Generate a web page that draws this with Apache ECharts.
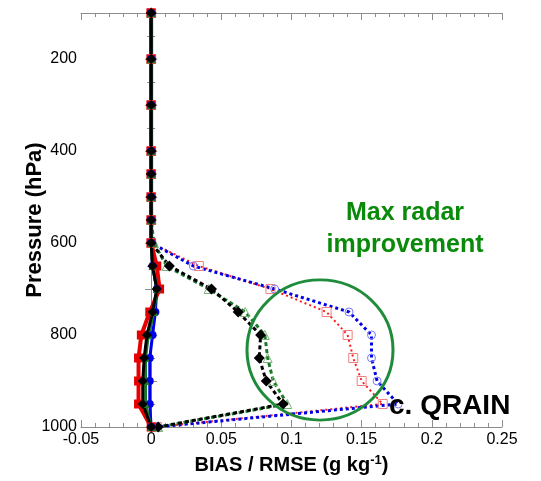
<!DOCTYPE html>
<html>
<head>
<meta charset="utf-8">
<script src="https://cdn.jsdelivr.net/npm/echarts@6/dist/echarts.min.js"></script>
<style>
  html, body { margin: 0; padding: 0; background: #fff; }
  #main { width: 541px; height: 481px; }
</style>
</head>
<body>
<div id="main"></div>
<script>
// pressure levels (hPa)
var levels = [100, 200, 300, 400, 450, 500, 550, 600, 650, 700, 750, 800, 850, 900, 950, 1000];
// BIAS profiles (solid)
var biasRed   = [0, 0, 0, 0, 0, 0, 0, 0, 0.004, 0.006, -0.001, -0.007, -0.009, -0.009, -0.009, 0.0];
var biasBlue  = [0, 0, 0, 0, 0, 0, 0, 0, 0.001, 0.004, 0.003, 0.001, -0.001, -0.001, -0.001, 0.0];
var biasGreen = [0, 0, 0, 0, 0, 0, 0, 0, 0.001, 0.004, 0.002, -0.002, -0.004, -0.004, -0.004, 0.0];
var biasBlack = [0, 0, 0, 0, 0, 0, 0, 0, 0.001, 0.004, 0.001, -0.003, -0.005, -0.006, -0.006, 0.0];
// RMSE profiles (dashed)
var rmseRed   = [0, 0, 0, 0, 0, 0, 0, 0, 0.034, 0.085, 0.125, 0.140, 0.144, 0.150, 0.165, 0.004];
var rmseBlue  = [0, 0, 0, 0, 0, 0, 0, 0, 0.030, 0.088, 0.141, 0.157, 0.157, 0.161, 0.176, 0.004];
var rmseGreen = [0, 0, 0, 0, 0, 0, 0, 0.002, 0.011, 0.041, 0.067, 0.081, 0.083, 0.087, 0.097, 0.005];
var rmseBlack = [0, 0, 0, 0, 0, 0, 0, 0, 0.013, 0.043, 0.062, 0.078, 0.077, 0.082, 0.094, 0.005];

function pairs(vals) {
    return vals.map(function (v, i) { return [v, levels[i]]; });
}

function line(name, vals, color, width, dash, symbol, size, fill, symColor) {
    return {
        name: name,
        type: 'line',
        data: pairs(vals),
        symbol: symbol,
        symbolSize: size,
        showSymbol: true,
        animation: false,
        lineStyle: { color: color, width: width, type: dash },
        itemStyle: fill ? { color: symColor || color, borderWidth: 0 }
                        : { color: 'rgba(255,255,255,0)', borderColor: symColor || color, borderWidth: 1 }
    };
}

var tri = 'path://M0,-10L9,6L-9,6Z';
var myChart = echarts.init(document.getElementById('main'));
var axisGrey = '#8c8c8c';
var option = {
    backgroundColor: '#fff',
    textStyle: { fontFamily: 'Liberation Sans, Arial, sans-serif' },
    grid: { left: 81, right: 39, top: 13, bottom: 54 },
    xAxis: [{
        type: 'value', min: -0.05, max: 0.25, interval: 0.05,
        name: 'BIAS / RMSE (g kg{sup|-1}{b|)}',
        nameLocation: 'middle', nameGap: 27,
        nameTextStyle: {
            fontSize: 20, fontWeight: 'bold', color: '#000',
            rich: { sup: { fontSize: 13, fontWeight: 'bold', verticalAlign: 'top', padding: [0, 0, 10, 0] },
                    b: { fontSize: 20, fontWeight: 'bold' } }
        },
        axisLine: { lineStyle: { color: axisGrey } },
        axisTick: { inside: true, length: 7, lineStyle: { color: axisGrey } },
        minorTick: { show: true, splitNumber: 5, length: 4, lineStyle: { color: axisGrey } },
        axisLabel: { fontSize: 16, color: '#000', margin: 5,
            formatter: function (v) { return String(+v.toFixed(2)); } },
        splitLine: { show: false }
    }, {
        type: 'value', min: -0.05, max: 0.25, interval: 0.05, position: 'top',
        axisLine: { lineStyle: { color: axisGrey } },
        axisTick: { inside: true, length: 7, lineStyle: { color: axisGrey } },
        minorTick: { show: true, splitNumber: 5, length: 4, lineStyle: { color: axisGrey } },
        axisLabel: { show: false }, splitLine: { show: false }
    }],
    yAxis: [{
        type: 'value', inverse: true, min: 100, max: 1000, interval: 100,
        name: 'Pressure (hPa)', nameLocation: 'middle', nameGap: 35, nameMoveOverlap: false,
        nameTextStyle: { fontSize: 22, fontWeight: 'bold', color: '#000' },
        axisLine: { lineStyle: { color: axisGrey } },
        axisTick: { inside: true, length: 6, lineStyle: { color: axisGrey } },
        minorTick: { show: true, splitNumber: 2, length: 4, lineStyle: { color: axisGrey } },
        axisLabel: { fontSize: 16, color: '#000', margin: 4,
            formatter: function (v) { return v % 200 === 0 ? String(v) : ''; } },
        splitLine: { show: false }
    }, {
        type: 'value', inverse: true, min: 100, max: 1000, interval: 100, position: 'right',
        axisLine: { lineStyle: { color: axisGrey } },
        axisTick: { inside: true, length: 6, lineStyle: { color: axisGrey } },
        minorTick: { show: true, splitNumber: 2, length: 4, lineStyle: { color: axisGrey } },
        axisLabel: { show: false }, splitLine: { show: false }
    }],
    series: [
        line('RMSE red', rmseRed, '#ff1a1a', 2, [2, 3], 'rect', 9, false, '#f08080'),
        line('RMSE blue', rmseBlue, '#0000e6', 3, [3, 3], 'circle', 8, false, '#7a7aff'),
        line('RMSE green', rmseGreen, '#1a7a2a', 3, [4, 3], tri, 9, false, '#7ab37a'),
        line('RMSE black', rmseBlack, '#000', 3, [4, 3], 'diamond', 11, true),
        line('BIAS red', biasRed, '#e60000', 4, 'solid', 'rect', 9, true),
        line('BIAS blue', biasBlue, '#0000e6', 3, 'solid', 'circle', 8, true),
        line('BIAS green', biasGreen, '#1a7a2a', 3, 'solid', tri, 8, true),
        line('BIAS black', biasBlack, '#000', 3, 'solid', 'diamond', 10, true)
    ],
    graphic: [
        { type: 'circle', shape: { cx: 320, cy: 350, r: 73 }, scaleY: 0.96, originX: 320, originY: 350,
          style: { fill: 'none', stroke: '#1e8c3a', lineWidth: 3 }, z: 10 },
        { type: 'text', x: 405, y: 213,
          style: { text: 'Max radar', fill: '#0a8a0a', font: 'bold 25px Liberation Sans, Arial, sans-serif',
                   align: 'center', verticalAlign: 'middle' }, z: 10 },
        { type: 'text', x: 405, y: 245,
          style: { text: 'improvement', fill: '#0a8a0a', font: 'bold 25px Liberation Sans, Arial, sans-serif',
                   align: 'center', verticalAlign: 'middle' }, z: 10 },
        { type: 'text', x: 389, y: 406,
          style: { text: 'c. QRAIN', fill: '#000', font: 'bold 28px Liberation Sans, Arial, sans-serif',
                   verticalAlign: 'middle' }, z: 11 }
    ]
};
myChart.setOption(option);
</script>
</body>
</html>
